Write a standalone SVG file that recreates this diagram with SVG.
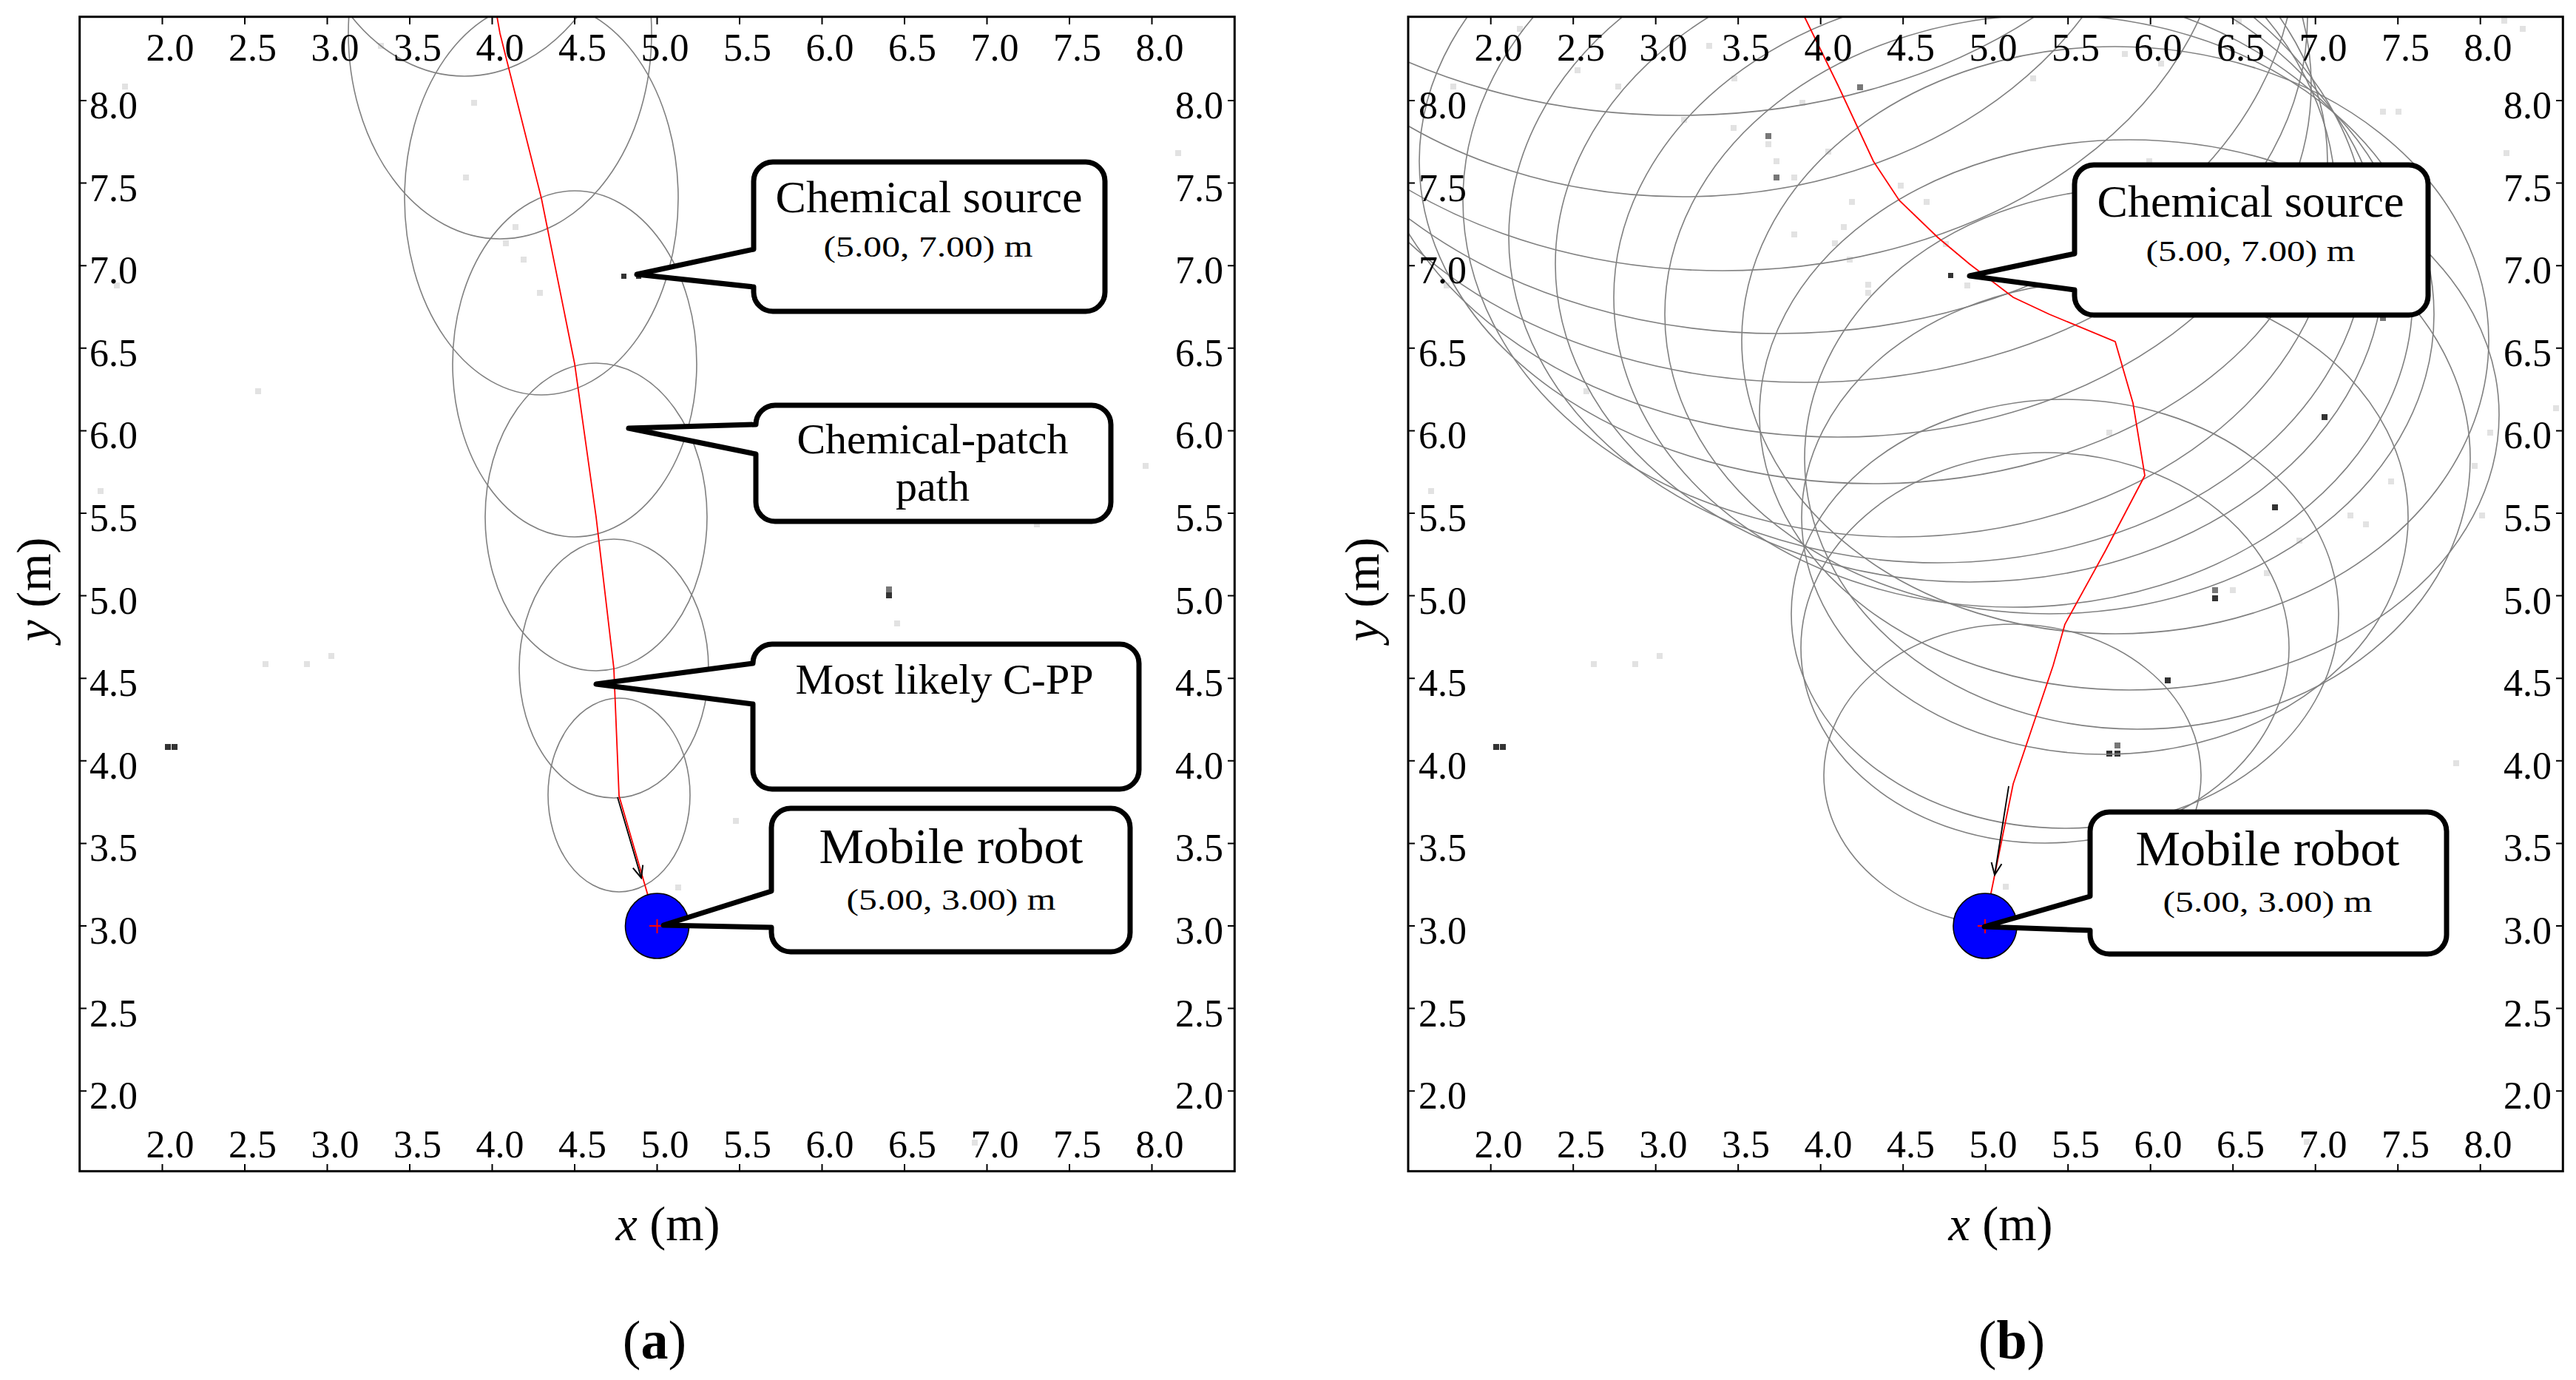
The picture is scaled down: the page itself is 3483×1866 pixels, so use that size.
<svg xmlns="http://www.w3.org/2000/svg" width="3483" height="1866" viewBox="0 0 3483 1866">
<style>
.bg{fill:#fff}
.frame{fill:none;stroke:#000;stroke-width:3}
.tick{stroke:#000;stroke-width:2}
.tl{font-family:"Liberation Serif","Times New Roman",serif;font-size:52px;fill:#000}
.tm{text-anchor:middle}
.te{text-anchor:end}
.ax{font-family:"Liberation Serif","Times New Roman",serif;font-size:66px;fill:#000;text-anchor:middle}
.cap{font-family:"Liberation Serif","Times New Roman",serif;font-size:74px;fill:#000;text-anchor:middle}
.ell{fill:none;stroke:#808080;stroke-width:1.6}
.rp{fill:none;stroke:#ff0000;stroke-width:1.8}
.arr{fill:none;stroke:#000;stroke-width:1.8}
.call{fill:#fff;stroke:#000;stroke-width:7;stroke-linejoin:round}
.big{font-family:"Liberation Serif","Times New Roman",serif;font-size:62px;fill:#000;text-anchor:middle}
.mid{font-family:"Liberation Serif","Times New Roman",serif;font-size:58px;fill:#000;text-anchor:middle}
.rob{font-family:"Liberation Serif","Times New Roman",serif;font-size:68px;fill:#000;text-anchor:middle}
.sm{font-family:"Liberation Serif","Times New Roman",serif;font-size:40px;fill:#000;text-anchor:middle}
.lg{fill:#e2e2e2}
.dk{fill:#333}
.md{fill:#777}
.robot{fill:#0000ff;stroke:#000;stroke-width:1.6}
.cross{stroke:#ff0000;stroke-width:2}
</style>
<defs>
<clipPath id="ca"><rect x="108" y="23" width="1561" height="1561"/></clipPath>
<clipPath id="cb"><rect x="1904" y="23" width="1561" height="1561"/></clipPath>
<marker id="ah" viewBox="0 0 20 20" refX="18" refY="10" markerWidth="20" markerHeight="20" markerUnits="userSpaceOnUse" orient="auto"><path d="M2,3 L18,10 L2,17" fill="none" stroke="#000" stroke-width="2"/></marker>
</defs>
<rect class="bg" x="0" y="0" width="3483" height="1866"/>

<!-- ================= PANEL A ================= -->
<g id="panel-a">
<g id="a-dots">
<rect class="lg" x="165" y="113" width="8" height="8"/>
<rect class="lg" x="511" y="58" width="8" height="8"/>
<rect class="lg" x="637" y="135" width="8" height="8"/>
<rect class="lg" x="626" y="236" width="8" height="8"/>
<rect class="lg" x="693" y="303" width="8" height="8"/>
<rect class="lg" x="680" y="325" width="8" height="8"/>
<rect class="lg" x="704" y="347" width="8" height="8"/>
<rect class="lg" x="726" y="392" width="8" height="8"/>
<rect class="lg" x="345" y="525" width="8" height="8"/>
<rect class="lg" x="1589" y="203" width="8" height="8"/>
<rect class="lg" x="1545" y="626" width="8" height="8"/>
<rect class="lg" x="1398" y="705" width="8" height="8"/>
<rect class="lg" x="132" y="660" width="8" height="8"/>
<rect class="lg" x="154" y="382" width="8" height="8"/>
<rect class="lg" x="355" y="894" width="8" height="8"/>
<rect class="lg" x="411" y="894" width="8" height="8"/>
<rect class="lg" x="444" y="883" width="8" height="8"/>
<rect class="lg" x="1209" y="839" width="8" height="8"/>
<rect class="lg" x="991" y="1106" width="8" height="8"/>
<rect class="lg" x="913" y="1196" width="8" height="8"/>
<rect class="lg" x="1314" y="1541" width="8" height="8"/>
<rect class="md" x="1198" y="793" width="8" height="8"/>
<rect class="dk" x="1198" y="801" width="8" height="8"/>
<rect class="dk" x="223" y="1006" width="8" height="8"/>
<rect class="dk" x="232" y="1006" width="8" height="8"/>
</g>
<g id="a-ellipses" clip-path="url(#ca)">
<ellipse class="ell" cx="628" cy="-200" rx="225" ry="303"/>
<ellipse class="ell" cx="676" cy="45" rx="205" ry="278"/>
<ellipse class="ell" cx="732" cy="268" rx="185" ry="266"/>
<ellipse class="ell" cx="777" cy="492" rx="165" ry="234"/>
<ellipse class="ell" cx="806" cy="699" rx="150" ry="208"/>
<ellipse class="ell" cx="830" cy="904" rx="128" ry="175"/>
<ellipse class="ell" cx="837" cy="1075" rx="96" ry="131"/>
</g>
<g id="a-path" clip-path="url(#ca)">
<polyline class="rp" points="668,0 676,45 732,268 777,492 806,699 830,904 837,1076 888,1252"/>
<line class="arr" x1="835" y1="1078" x2="867" y2="1187" marker-end="url(#ah)"/>
<rect class="dk" x="840" y="370" width="7" height="7"/>
<rect class="dk" x="860" y="370" width="7" height="7"/>
</g>
<g id="a-robot">
<ellipse class="robot" cx="888.5" cy="1252" rx="43" ry="44"/>
<line class="cross" x1="878" y1="1252" x2="899" y2="1252"/>
<line class="cross" x1="888.5" y1="1243" x2="888.5" y2="1262"/>
</g>
<g id="a-axes">
<rect class="frame" x="107.7" y="22.7" width="1561.6" height="1561"/>
<path class="tick" d="M219.5,23v10M331,23v10M442.5,23v10M554,23v10M665.5,23v10M777,23v10M888.5,23v10M1000,23v10M1111.5,23v10M1223,23v10M1334.5,23v10M1446,23v10M1557.5,23v10
M219.5,1584v-10M331,1584v-10M442.5,1584v-10M554,1584v-10M665.5,1584v-10M777,1584v-10M888.5,1584v-10M1000,1584v-10M1111.5,1584v-10M1223,1584v-10M1334.5,1584v-10M1446,1584v-10M1557.5,1584v-10
M108,136h9M108,247.6h9M108,359.2h9M108,470.8h9M108,582.4h9M108,694h9M108,805.6h9M108,917.2h9M108,1028.8h9M108,1140.4h9M108,1252h9M108,1363.6h9M108,1475.2h9
M1669,136h-9M1669,247.6h-9M1669,359.2h-9M1669,470.8h-9M1669,582.4h-9M1669,694h-9M1669,805.6h-9M1669,917.2h-9M1669,1028.8h-9M1669,1140.4h-9M1669,1252h-9M1669,1363.6h-9M1669,1475.2h-9"/>
<g class="tl tm">
<text x="230" y="82">2.0</text><text x="341.5" y="82">2.5</text><text x="453" y="82">3.0</text><text x="564.5" y="82">3.5</text><text x="676" y="82">4.0</text><text x="787.5" y="82">4.5</text><text x="899" y="82">5.0</text><text x="1010.5" y="82">5.5</text><text x="1122" y="82">6.0</text><text x="1233.5" y="82">6.5</text><text x="1345" y="82">7.0</text><text x="1456.5" y="82">7.5</text><text x="1568" y="82">8.0</text>
<text x="230" y="1565">2.0</text><text x="341.5" y="1565">2.5</text><text x="453" y="1565">3.0</text><text x="564.5" y="1565">3.5</text><text x="676" y="1565">4.0</text><text x="787.5" y="1565">4.5</text><text x="899" y="1565">5.0</text><text x="1010.5" y="1565">5.5</text><text x="1122" y="1565">6.0</text><text x="1233.5" y="1565">6.5</text><text x="1345" y="1565">7.0</text><text x="1456.5" y="1565">7.5</text><text x="1568" y="1565">8.0</text>
</g>
<g class="tl">
<text x="121" y="160">8.0</text><text x="121" y="271.6">7.5</text><text x="121" y="383.2">7.0</text><text x="121" y="494.8">6.5</text><text x="121" y="606.4">6.0</text><text x="121" y="718">5.5</text><text x="121" y="829.6">5.0</text><text x="121" y="941.2">4.5</text><text x="121" y="1052.8">4.0</text><text x="121" y="1164.4">3.5</text><text x="121" y="1276">3.0</text><text x="121" y="1387.6">2.5</text><text x="121" y="1499.2">2.0</text>
</g>
<g class="tl te">
<text x="1654" y="160">8.0</text><text x="1654" y="271.6">7.5</text><text x="1654" y="383.2">7.0</text><text x="1654" y="494.8">6.5</text><text x="1654" y="606.4">6.0</text><text x="1654" y="718">5.5</text><text x="1654" y="829.6">5.0</text><text x="1654" y="941.2">4.5</text><text x="1654" y="1052.8">4.0</text><text x="1654" y="1164.4">3.5</text><text x="1654" y="1276">3.0</text><text x="1654" y="1387.6">2.5</text><text x="1654" y="1499.2">2.0</text>
</g>
<text class="ax" x="903" y="1677"><tspan font-style="italic">x</tspan> (m)</text>
<text class="ax" transform="translate(67.5,797) rotate(-90)"><tspan font-style="italic">y</tspan> (m)</text>
<text class="cap" x="885" y="1837">(<tspan font-weight="bold">a</tspan>)</text>
</g>
</g>

<g id="a-callout-source">
<path class="call" d="M1045,219 H1468 A26,26 0 0 1 1494,245 V395 A26,26 0 0 1 1468,421 H1045 A26,26 0 0 1 1019,395 V388 L861,371 L1019,337 V245 A26,26 0 0 1 1045,219 Z"/>
<text class="big" x="1256" y="287">Chemical source</text>
<text class="sm" x="1255" y="347" textLength="283" lengthAdjust="spacingAndGlyphs">(5.00, 7.00) m</text>
</g>
<g id="a-callout-patch">
<path class="call" d="M1048,548 H1476 A26,26 0 0 1 1502,574 V679 A26,26 0 0 1 1476,705 H1048 A26,26 0 0 1 1022,679 V614 L850,579 L1022,574 A26,26 0 0 1 1048,548 Z"/>
<text class="mid" x="1261" y="613">Chemical-patch</text>
<text class="mid" x="1261" y="677">path</text>
</g>
<g id="a-callout-cpp">
<path class="call" d="M1044,871 H1514 A26,26 0 0 1 1540,897 V1041 A26,26 0 0 1 1514,1067 H1044 A26,26 0 0 1 1018,1041 V952 L806,925 L1018,897 A26,26 0 0 1 1044,871 Z"/>
<text class="mid" x="1277" y="938">Most likely C-PP</text>
</g>
<g id="a-callout-robot">
<path class="call" d="M1069,1093 H1502 A26,26 0 0 1 1528,1119 V1261 A26,26 0 0 1 1502,1287 H1069 A26,26 0 0 1 1043,1261 V1254 L897,1251 L1043,1205 V1119 A26,26 0 0 1 1069,1093 Z"/>
<text class="rob" x="1286" y="1167">Mobile robot</text>
<text class="sm" x="1286" y="1230" textLength="283" lengthAdjust="spacingAndGlyphs">(5.00, 3.00) m</text>
</g>

<!-- ================= PANEL B ================= -->
<g id="panel-b">
<g id="b-dots">
<rect class="lg" x="2051" y="35" width="8" height="8"/>
<rect class="lg" x="2129" y="91" width="8" height="8"/>
<rect class="lg" x="2184" y="113" width="8" height="8"/>
<rect class="lg" x="2307" y="58" width="8" height="8"/>
<rect class="lg" x="2341" y="102" width="8" height="8"/>
<rect class="lg" x="2273" y="158" width="8" height="8"/>
<rect class="lg" x="2340" y="169" width="8" height="8"/>
<rect class="lg" x="1961" y="113" width="8" height="8"/>
<rect class="md" x="2387" y="180" width="8" height="8"/>
<rect class="lg" x="2387" y="191" width="8" height="8"/>
<rect class="lg" x="2398" y="214" width="8" height="8"/>
<rect class="md" x="2398" y="236" width="8" height="8"/>
<rect class="lg" x="2422" y="236" width="8" height="8"/>
<rect class="md" x="2511" y="114" width="8" height="8"/>
<rect class="lg" x="2433" y="135" width="8" height="8"/>
<rect class="lg" x="2468" y="201" width="8" height="8"/>
<rect class="lg" x="2566" y="247" width="8" height="8"/>
<rect class="lg" x="2601" y="269" width="8" height="8"/>
<rect class="lg" x="2500" y="269" width="8" height="8"/>
<rect class="lg" x="2489" y="303" width="8" height="8"/>
<rect class="lg" x="2422" y="313" width="8" height="8"/>
<rect class="lg" x="2477" y="325" width="8" height="8"/>
<rect class="lg" x="2627" y="326" width="8" height="8"/>
<rect class="lg" x="2497" y="347" width="8" height="8"/>
<rect class="lg" x="2522" y="381" width="8" height="8"/>
<rect class="lg" x="2522" y="392" width="8" height="8"/>
<rect class="lg" x="2656" y="382" width="8" height="8"/>
<rect class="lg" x="2902" y="214" width="8" height="8"/>
<rect class="lg" x="2745" y="102" width="8" height="8"/>
<rect class="lg" x="2869" y="69" width="8" height="8"/>
<rect class="lg" x="2918" y="82" width="8" height="8"/>
<rect class="lg" x="3023" y="25" width="8" height="8"/>
<rect class="lg" x="3382" y="24" width="8" height="8"/>
<rect class="lg" x="3407" y="35" width="8" height="8"/>
<rect class="lg" x="3218" y="147" width="8" height="8"/>
<rect class="lg" x="3239" y="147" width="8" height="8"/>
<rect class="lg" x="3385" y="203" width="8" height="8"/>
<rect class="md" x="3218" y="426" width="8" height="8"/>
<rect class="dk" x="3139" y="560" width="8" height="8"/>
<rect class="dk" x="3072" y="682" width="8" height="8"/>
<rect class="md" x="2991" y="794" width="8" height="8"/>
<rect class="dk" x="2991" y="805" width="8" height="8"/>
<rect class="lg" x="3015" y="794" width="8" height="8"/>
<rect class="lg" x="3061" y="771" width="8" height="8"/>
<rect class="lg" x="3105" y="727" width="8" height="8"/>
<rect class="lg" x="3174" y="693" width="8" height="8"/>
<rect class="lg" x="3195" y="705" width="8" height="8"/>
<rect class="lg" x="3229" y="647" width="8" height="8"/>
<rect class="lg" x="3342" y="626" width="8" height="8"/>
<rect class="lg" x="3352" y="693" width="8" height="8"/>
<rect class="lg" x="3363" y="581" width="8" height="8"/>
<rect class="lg" x="3452" y="548" width="8" height="8"/>
<rect class="lg" x="2848" y="581" width="8" height="8"/>
<rect class="lg" x="2141" y="525" width="8" height="8"/>
<rect class="lg" x="1931" y="660" width="8" height="8"/>
<rect class="lg" x="1952" y="382" width="8" height="8"/>
<rect class="dk" x="2927" y="916" width="8" height="8"/>
<rect class="md" x="2859" y="1004" width="8" height="8"/>
<rect class="dk" x="2848" y="1015" width="8" height="8"/>
<rect class="dk" x="2859" y="1015" width="8" height="8"/>
<rect class="dk" x="2019" y="1006" width="8" height="8"/>
<rect class="dk" x="2028" y="1006" width="8" height="8"/>
<rect class="lg" x="3317" y="1028" width="8" height="8"/>
<rect class="lg" x="2708" y="1195" width="8" height="8"/>
<rect class="lg" x="3115" y="1540" width="8" height="8"/>
<rect class="lg" x="2151" y="894" width="8" height="8"/>
<rect class="lg" x="2207" y="894" width="8" height="8"/>
<rect class="lg" x="2240" y="883" width="8" height="8"/>
</g>
<g id="b-ellipses" clip-path="url(#cb)">
<ellipse class="ell" cx="2721" cy="1048" rx="255" ry="204"/>
<ellipse class="ell" cx="2765" cy="876" rx="330" ry="264"/>
<ellipse class="ell" cx="2792" cy="830" rx="370" ry="290"/>
<ellipse class="ell" cx="2846" cy="700" rx="410" ry="320"/>
<ellipse class="ell" cx="2890" cy="620" rx="450" ry="366"/>
<ellipse class="ell" cx="2879" cy="561" rx="500" ry="372"/>
<ellipse class="ell" cx="2860" cy="460" rx="505" ry="397"/>
<ellipse class="ell" cx="2771" cy="425" rx="520" ry="405"/>
<ellipse class="ell" cx="2722" cy="402" rx="540" ry="419"/>
<ellipse class="ell" cx="2663" cy="357" rx="560" ry="430"/>
<ellipse class="ell" cx="2620" cy="321" rx="580" ry="440"/>
<ellipse class="ell" cx="2568" cy="271" rx="590" ry="455"/>
<ellipse class="ell" cx="2533" cy="218" rx="614" ry="436"/>
<ellipse class="ell" cx="2485" cy="115" rx="640" ry="476"/>
<ellipse class="ell" cx="2440" cy="23" rx="680" ry="494"/>
<ellipse class="ell" cx="2404" cy="-69" rx="700" ry="520"/>
<ellipse class="ell" cx="2329" cy="-134" rx="680" ry="500"/>
<ellipse class="ell" cx="2275" cy="-234" rx="630" ry="500"/>
<ellipse class="ell" cx="2270" cy="-344" rx="707" ry="500"/>
</g>
<g id="b-path" clip-path="url(#cb)">
<polyline class="rp" points="2430,0 2440,23 2485,115 2533,218 2568,271 2620,321 2663,357 2722,402 2771,425 2860,462 2884,545 2900,643 2846,746 2792,844 2776,900 2722,1060 2683,1252"/>
<line class="arr" x1="2716" y1="1063" x2="2697" y2="1183" marker-end="url(#ah)"/>
<rect class="dk" x="2634" y="369" width="7" height="7"/>
</g>
<g id="b-robot">
<ellipse class="robot" cx="2684" cy="1252" rx="43" ry="44"/>
<line class="cross" x1="2674" y1="1252" x2="2695" y2="1252"/>
<line class="cross" x1="2684" y1="1243" x2="2684" y2="1262"/>
</g>
<g id="b-axes">
<rect class="frame" x="1904" y="22.7" width="1561.3" height="1561"/>
<path class="tick" d="M2015.7,23v10M2127.2,23v10M2238.7,23v10M2350.2,23v10M2461.7,23v10M2573.2,23v10M2684.7,23v10M2796.2,23v10M2907.7,23v10M3019.2,23v10M3130.7,23v10M3242.2,23v10M3353.7,23v10
M2015.7,1584v-10M2127.2,1584v-10M2238.7,1584v-10M2350.2,1584v-10M2461.7,1584v-10M2573.2,1584v-10M2684.7,1584v-10M2796.2,1584v-10M2907.7,1584v-10M3019.2,1584v-10M3130.7,1584v-10M3242.2,1584v-10M3353.7,1584v-10
M1904,136h9M1904,247.6h9M1904,359.2h9M1904,470.8h9M1904,582.4h9M1904,694h9M1904,805.6h9M1904,917.2h9M1904,1028.8h9M1904,1140.4h9M1904,1252h9M1904,1363.6h9M1904,1475.2h9
M3465,136h-9M3465,247.6h-9M3465,359.2h-9M3465,470.8h-9M3465,582.4h-9M3465,694h-9M3465,805.6h-9M3465,917.2h-9M3465,1028.8h-9M3465,1140.4h-9M3465,1252h-9M3465,1363.6h-9M3465,1475.2h-9"/>
<g class="tl tm">
<text x="2026" y="82">2.0</text><text x="2137.5" y="82">2.5</text><text x="2249" y="82">3.0</text><text x="2360.5" y="82">3.5</text><text x="2472" y="82">4.0</text><text x="2583.5" y="82">4.5</text><text x="2695" y="82">5.0</text><text x="2806.5" y="82">5.5</text><text x="2918" y="82">6.0</text><text x="3029.5" y="82">6.5</text><text x="3141" y="82">7.0</text><text x="3252.5" y="82">7.5</text><text x="3364" y="82">8.0</text>
<text x="2026" y="1565">2.0</text><text x="2137.5" y="1565">2.5</text><text x="2249" y="1565">3.0</text><text x="2360.5" y="1565">3.5</text><text x="2472" y="1565">4.0</text><text x="2583.5" y="1565">4.5</text><text x="2695" y="1565">5.0</text><text x="2806.5" y="1565">5.5</text><text x="2918" y="1565">6.0</text><text x="3029.5" y="1565">6.5</text><text x="3141" y="1565">7.0</text><text x="3252.5" y="1565">7.5</text><text x="3364" y="1565">8.0</text>
</g>
<g class="tl">
<text x="1918" y="160">8.0</text><text x="1918" y="271.6">7.5</text><text x="1918" y="383.2">7.0</text><text x="1918" y="494.8">6.5</text><text x="1918" y="606.4">6.0</text><text x="1918" y="718">5.5</text><text x="1918" y="829.6">5.0</text><text x="1918" y="941.2">4.5</text><text x="1918" y="1052.8">4.0</text><text x="1918" y="1164.4">3.5</text><text x="1918" y="1276">3.0</text><text x="1918" y="1387.6">2.5</text><text x="1918" y="1499.2">2.0</text>
</g>
<g class="tl te">
<text x="3450" y="160">8.0</text><text x="3450" y="271.6">7.5</text><text x="3450" y="383.2">7.0</text><text x="3450" y="494.8">6.5</text><text x="3450" y="606.4">6.0</text><text x="3450" y="718">5.5</text><text x="3450" y="829.6">5.0</text><text x="3450" y="941.2">4.5</text><text x="3450" y="1052.8">4.0</text><text x="3450" y="1164.4">3.5</text><text x="3450" y="1276">3.0</text><text x="3450" y="1387.6">2.5</text><text x="3450" y="1499.2">2.0</text>
</g>
<text class="ax" x="2705" y="1677"><tspan font-style="italic">x</tspan> (m)</text>
<text class="ax" transform="translate(1864,797) rotate(-90)"><tspan font-style="italic">y</tspan> (m)</text>
<text class="cap" x="2720" y="1837">(<tspan font-weight="bold">b</tspan>)</text>
</g>
</g>

<g id="b-callout-source">
<path class="call" d="M2831,223 H3257 A26,26 0 0 1 3283,249 V400 A26,26 0 0 1 3257,426 H2831 A26,26 0 0 1 2805,400 V392 L2663,373 L2805,343 V249 A26,26 0 0 1 2831,223 Z"/>
<text class="big" x="3043" y="293">Chemical source</text>
<text class="sm" x="3043" y="353" textLength="283" lengthAdjust="spacingAndGlyphs">(5.00, 7.00) m</text>
</g>
<g id="b-callout-robot">
<path class="call" d="M2852,1098 H3282 A26,26 0 0 1 3308,1124 V1264 A26,26 0 0 1 3282,1290 H2852 A26,26 0 0 1 2826,1264 V1258 L2683,1253 L2826,1212 V1124 A26,26 0 0 1 2852,1098 Z"/>
<text class="rob" x="3066" y="1170">Mobile robot</text>
<text class="sm" x="3066" y="1233" textLength="283" lengthAdjust="spacingAndGlyphs">(5.00, 3.00) m</text>
</g>
</svg>
